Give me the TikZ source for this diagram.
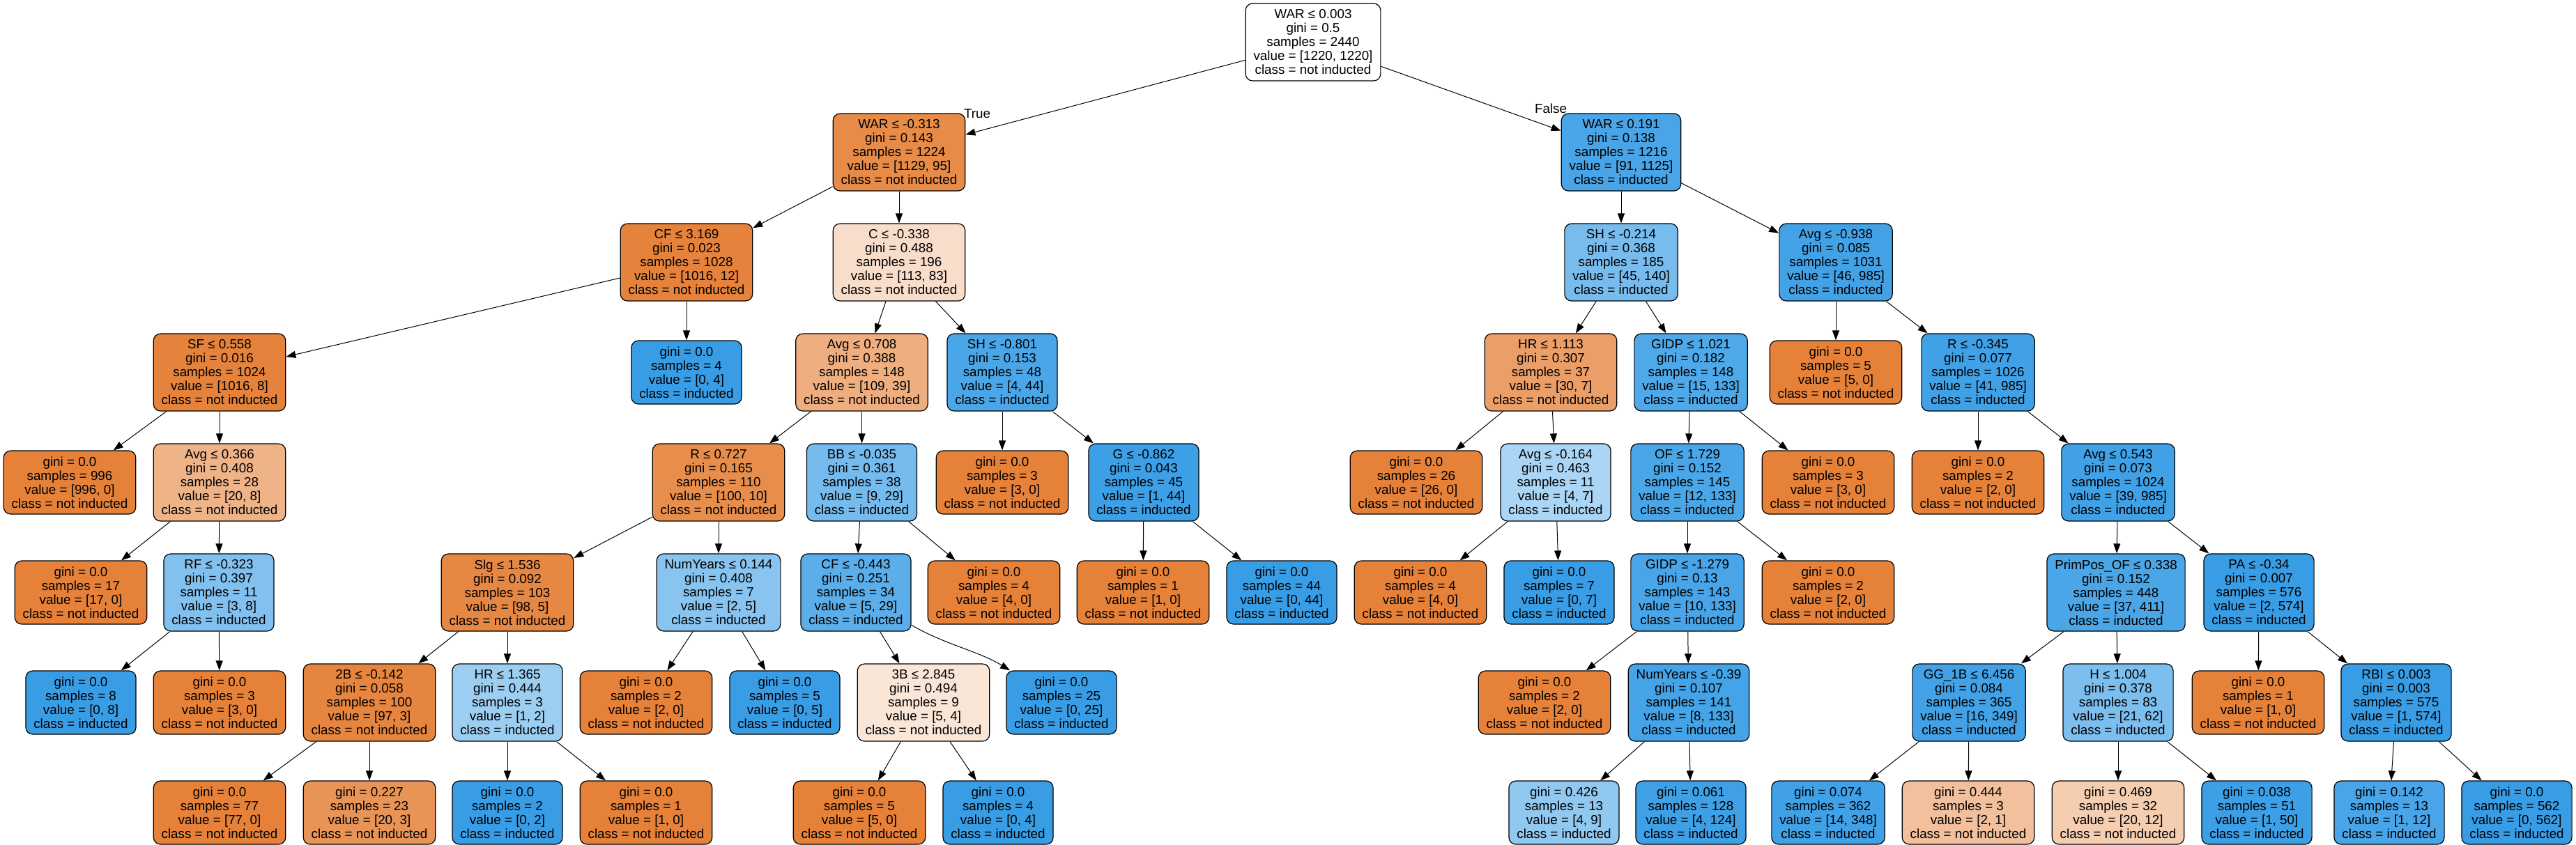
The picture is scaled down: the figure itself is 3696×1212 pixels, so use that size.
\documentclass[tikz,border=0pt]{standalone}
\usepackage{fontspec}
\setmainfont{Liberation Sans}
\usetikzlibrary{arrows.meta}
\definecolor{notind}{RGB}{229,129,57}
\definecolor{ind}{RGB}{57,157,229}

\begin{document}
\begin{tikzpicture}[x=0.5pt, y=-0.5pt,
    font=\fontsize{9.4}{10}\selectfont,
    dnode/.style={draw, line width=0.6pt, rounded corners=5pt, align=center,
      minimum height=55.5pt, inner xsep=5.7pt, inner ysep=0pt},
    lnode/.style={dnode, minimum height=45.5pt},
    edge/.style={-{Triangle[length=7pt,width=5pt]}, line width=0.5pt}]

    \useasboundingbox (0,0) rectangle (3696,1212);

    % level 0
    \node[dnode, fill=white] (root) at (1884,60.5) {WAR ≤ 0.003\\gini = 0.5\\samples = 2440\\value = [1220, 1220]\\class = not inducted};

    % level 1
    \node[dnode, fill=notind!92] (l) at (1290,218.5) {WAR ≤ -0.313\\gini = 0.143\\samples = 1224\\value = [1129, 95]\\class = not inducted};
    \node[dnode, fill=ind!92] (r) at (2326,218.5) {WAR ≤ 0.191\\gini = 0.138\\samples = 1216\\value = [91, 1125]\\class = inducted};
    \node (true) at (1402,163) {True};
    \node (false) at (2225,156) {False};

    % level 2
    \node[dnode, fill=notind!99] (ll) at (985,376.5) {CF ≤ 3.169\\gini = 0.023\\samples = 1028\\value = [1016, 12]\\class = not inducted};
    \node[dnode, fill=notind!27] (lr) at (1290,376.5) {C ≤ -0.338\\gini = 0.488\\samples = 196\\value = [113, 83]\\class = not inducted};
    \node[dnode, fill=ind!68] (rl) at (2326,376.5) {SH ≤ -0.214\\gini = 0.368\\samples = 185\\value = [45, 140]\\class = inducted};
    \node[dnode, fill=ind!95] (rr) at (2634,376.5) {Avg ≤ -0.938\\gini = 0.085\\samples = 1031\\value = [46, 985]\\class = inducted};

    % level 3
    \node[dnode, fill=notind!99] (lll) at (315,534.5) {SF ≤ 0.558\\gini = 0.016\\samples = 1024\\value = [1016, 8]\\class = not inducted};
    \node[lnode, fill=ind] (llr) at (985,534.5) {gini = 0.0\\samples = 4\\value = [0, 4]\\class = inducted};
    \node[dnode, fill=notind!64] (lrl) at (1236.5,534.5) {Avg ≤ 0.708\\gini = 0.388\\samples = 148\\value = [109, 39]\\class = not inducted};
    \node[dnode, fill=ind!91] (lrr) at (1438,534.5) {SH ≤ -0.801\\gini = 0.153\\samples = 48\\value = [4, 44]\\class = inducted};
    \node[dnode, fill=notind!77] (rll) at (2225,534.5) {HR ≤ 1.113\\gini = 0.307\\samples = 37\\value = [30, 7]\\class = not inducted};
    \node[dnode, fill=ind!89] (rlr) at (2426,534.5) {GIDP ≤ 1.021\\gini = 0.182\\samples = 148\\value = [15, 133]\\class = inducted};
    \node[lnode, fill=notind] (rrl) at (2634,534.5) {gini = 0.0\\samples = 5\\value = [5, 0]\\class = not inducted};
    \node[dnode, fill=ind!96] (rrr) at (2838,534.5) {R ≤ -0.345\\gini = 0.077\\samples = 1026\\value = [41, 985]\\class = inducted};

    % level 4
    \node[lnode, fill=notind] (llll) at (100,692.5) {gini = 0.0\\samples = 996\\value = [996, 0]\\class = not inducted};
    \node[dnode, fill=notind!60] (lllr) at (315,692.5) {Avg ≤ 0.366\\gini = 0.408\\samples = 28\\value = [20, 8]\\class = not inducted};
    \node[dnode, fill=notind!90] (lrll) at (1031,692.5) {R ≤ 0.727\\gini = 0.165\\samples = 110\\value = [100, 10]\\class = not inducted};
    \node[dnode, fill=ind!69] (lrlr) at (1236.5,692.5) {BB ≤ -0.035\\gini = 0.361\\samples = 38\\value = [9, 29]\\class = inducted};
    \node[lnode, fill=notind] (lrrl) at (1438,692.5) {gini = 0.0\\samples = 3\\value = [3, 0]\\class = not inducted};
    \node[dnode, fill=ind!98] (lrrr) at (1641,692.5) {G ≤ -0.862\\gini = 0.043\\samples = 45\\value = [1, 44]\\class = inducted};
    \node[lnode, fill=notind] (rlll) at (2032,692.5) {gini = 0.0\\samples = 26\\value = [26, 0]\\class = not inducted};
    \node[dnode, fill=ind!43] (rllr) at (2232,692.5) {Avg ≤ -0.164\\gini = 0.463\\samples = 11\\value = [4, 7]\\class = inducted};
    \node[dnode, fill=ind!91] (rlrl) at (2421,692.5) {OF ≤ 1.729\\gini = 0.152\\samples = 145\\value = [12, 133]\\class = inducted};
    \node[lnode, fill=notind] (rlrr) at (2623,692.5) {gini = 0.0\\samples = 3\\value = [3, 0]\\class = not inducted};
    \node[lnode, fill=notind] (rrrl) at (2838,692.5) {gini = 0.0\\samples = 2\\value = [2, 0]\\class = not inducted};
    \node[dnode, fill=ind!96] (rrrr) at (3039,692.5) {Avg ≤ 0.543\\gini = 0.073\\samples = 1024\\value = [39, 985]\\class = inducted};

    % level 5
    \node[lnode, fill=notind] (lllrl) at (116,850.5) {gini = 0.0\\samples = 17\\value = [17, 0]\\class = not inducted};
    \node[dnode, fill=ind!63] (lllrr) at (314,850.5) {RF ≤ -0.323\\gini = 0.397\\samples = 11\\value = [3, 8]\\class = inducted};
    \node[dnode, fill=notind!95] (lrlll) at (728,850.5) {Slg ≤ 1.536\\gini = 0.092\\samples = 103\\value = [98, 5]\\class = not inducted};
    \node[dnode, fill=ind!60] (lrllr) at (1031,850.5) {NumYears ≤ 0.144\\gini = 0.408\\samples = 7\\value = [2, 5]\\class = inducted};
    \node[dnode, fill=ind!83] (lrlrl) at (1228,850.5) {CF ≤ -0.443\\gini = 0.251\\samples = 34\\value = [5, 29]\\class = inducted};
    \node[lnode, fill=notind] (lrlrr) at (1426,850.5) {gini = 0.0\\samples = 4\\value = [4, 0]\\class = not inducted};
    \node[lnode, fill=notind] (lrrrl) at (1640,850.5) {gini = 0.0\\samples = 1\\value = [1, 0]\\class = not inducted};
    \node[lnode, fill=ind] (lrrrr) at (1839,850.5) {gini = 0.0\\samples = 44\\value = [0, 44]\\class = inducted};
    \node[lnode, fill=notind] (rllrl) at (2038,850.5) {gini = 0.0\\samples = 4\\value = [4, 0]\\class = not inducted};
    \node[lnode, fill=ind] (rllrr) at (2237,850.5) {gini = 0.0\\samples = 7\\value = [0, 7]\\class = inducted};
    \node[dnode, fill=ind!92] (rlrll) at (2421,850.5) {GIDP ≤ -1.279\\gini = 0.13\\samples = 143\\value = [10, 133]\\class = inducted};
    \node[lnode, fill=notind] (rlrlr) at (2623,850.5) {gini = 0.0\\samples = 2\\value = [2, 0]\\class = not inducted};
    \node[dnode, fill=ind!91] (rrrrl) at (3036,850.5) {PrimPos\_OF ≤ 0.338\\gini = 0.152\\samples = 448\\value = [37, 411]\\class = inducted};
    \node[dnode, fill=ind!100] (rrrrr) at (3241,850.5) {PA ≤ -0.34\\gini = 0.007\\samples = 576\\value = [2, 574]\\class = inducted};

    % level 6
    \node[lnode, fill=ind] (lllrrl) at (116,1008.5) {gini = 0.0\\samples = 8\\value = [0, 8]\\class = inducted};
    \node[lnode, fill=notind] (lllrrr) at (315,1008.5) {gini = 0.0\\samples = 3\\value = [3, 0]\\class = not inducted};
    \node[dnode, fill=notind!97] (lrllll) at (530,1008.5) {2B ≤ -0.142\\gini = 0.058\\samples = 100\\value = [97, 3]\\class = not inducted};
    \node[dnode, fill=ind!50] (lrlllr) at (728,1008.5) {HR ≤ 1.365\\gini = 0.444\\samples = 3\\value = [1, 2]\\class = inducted};
    \node[lnode, fill=notind] (lrllrl) at (927,1008.5) {gini = 0.0\\samples = 2\\value = [2, 0]\\class = not inducted};
    \node[lnode, fill=ind] (lrllrr) at (1126,1008.5) {gini = 0.0\\samples = 5\\value = [0, 5]\\class = inducted};
    \node[dnode, fill=notind!20] (lrlrll) at (1325,1008.5) {3B ≤ 2.845\\gini = 0.494\\samples = 9\\value = [5, 4]\\class = not inducted};
    \node[lnode, fill=ind] (lrlrlr) at (1523,1008.5) {gini = 0.0\\samples = 25\\value = [0, 25]\\class = inducted};
    \node[lnode, fill=notind] (rlrlll) at (2216,1008.5) {gini = 0.0\\samples = 2\\value = [2, 0]\\class = not inducted};
    \node[dnode, fill=ind!94] (rlrllr) at (2423,1008.5) {NumYears ≤ -0.39\\gini = 0.107\\samples = 141\\value = [8, 133]\\class = inducted};
    \node[dnode, fill=ind!95] (rrrrll) at (2825,1008.5) {GG\_1B ≤ 6.456\\gini = 0.084\\samples = 365\\value = [16, 349]\\class = inducted};
    \node[dnode, fill=ind!66] (rrrrlr) at (3039,1008.5) {H ≤ 1.004\\gini = 0.378\\samples = 83\\value = [21, 62]\\class = inducted};
    \node[lnode, fill=notind] (rrrrrl) at (3240,1008.5) {gini = 0.0\\samples = 1\\value = [1, 0]\\class = not inducted};
    \node[dnode, fill=ind!100] (rrrrrr) at (3438,1008.5) {RBI ≤ 0.003\\gini = 0.003\\samples = 575\\value = [1, 574]\\class = inducted};

    % level 7
    \node[lnode, fill=notind] (lrlllll) at (315,1166.5) {gini = 0.0\\samples = 77\\value = [77, 0]\\class = not inducted};
    \node[lnode, fill=notind!85] (lrllllr) at (530,1166.5) {gini = 0.227\\samples = 23\\value = [20, 3]\\class = not inducted};
    \node[lnode, fill=ind] (lrlllrl) at (728,1166.5) {gini = 0.0\\samples = 2\\value = [0, 2]\\class = inducted};
    \node[lnode, fill=notind] (lrlllrr) at (927,1166.5) {gini = 0.0\\samples = 1\\value = [1, 0]\\class = not inducted};
    \node[lnode, fill=notind] (lrlrlll) at (1233,1166.5) {gini = 0.0\\samples = 5\\value = [5, 0]\\class = not inducted};
    \node[lnode, fill=ind] (lrlrllr) at (1432,1166.5) {gini = 0.0\\samples = 4\\value = [0, 4]\\class = inducted};
    \node[lnode, fill=ind!56] (rlrllrl) at (2244,1166.5) {gini = 0.426\\samples = 13\\value = [4, 9]\\class = inducted};
    \node[lnode, fill=ind!97] (rlrllrr) at (2426,1166.5) {gini = 0.061\\samples = 128\\value = [4, 124]\\class = inducted};
    \node[lnode, fill=ind!96] (rrrrlll) at (2623,1166.5) {gini = 0.074\\samples = 362\\value = [14, 348]\\class = inducted};
    \node[lnode, fill=notind!50] (rrrrllr) at (2824,1166.5) {gini = 0.444\\samples = 3\\value = [2, 1]\\class = not inducted};
    \node[lnode, fill=notind!40] (rrrrlrl) at (3039,1166.5) {gini = 0.469\\samples = 32\\value = [20, 12]\\class = not inducted};
    \node[lnode, fill=ind!98] (rrrrlrr) at (3238,1166.5) {gini = 0.038\\samples = 51\\value = [1, 50]\\class = inducted};
    \node[lnode, fill=ind!92] (rrrrrrl) at (3428,1166.5) {gini = 0.142\\samples = 13\\value = [1, 12]\\class = inducted};
    \node[lnode, fill=ind] (rrrrrrr) at (3611,1166.5) {gini = 0.0\\samples = 562\\value = [0, 562]\\class = inducted};

    % edges
    \draw[edge] (root) -- (l);
    \draw[edge] (root) -- (r);
    \draw[edge] (l) -- (ll);
    \draw[edge] (l) -- (lr);
    \draw[edge] (r) -- (rl);
    \draw[edge] (r) -- (rr);
    \draw[edge] (ll) -- (lll);
    \draw[edge] (ll) -- (llr);
    \draw[edge] (lr) -- (lrl);
    \draw[edge] (lr) -- (lrr);
    \draw[edge] (rl) -- (rll);
    \draw[edge] (rl) -- (rlr);
    \draw[edge] (rr) -- (rrl);
    \draw[edge] (rr) -- (rrr);
    \draw[edge] (lll) -- (llll);
    \draw[edge] (lll) -- (lllr);
    \draw[edge] (lrl) -- (lrll);
    \draw[edge] (lrl) -- (lrlr);
    \draw[edge] (lrr) -- (lrrl);
    \draw[edge] (lrr) -- (lrrr);
    \draw[edge] (rll) -- (rlll);
    \draw[edge] (rll) -- (rllr);
    \draw[edge] (rlr) -- (rlrl);
    \draw[edge] (rlr) -- (rlrr);
    \draw[edge] (rrr) -- (rrrl);
    \draw[edge] (rrr) -- (rrrr);
    \draw[edge] (lllr) -- (lllrl);
    \draw[edge] (lllr) -- (lllrr);
    \draw[edge] (lrll) -- (lrlll);
    \draw[edge] (lrll) -- (lrllr);
    \draw[edge] (lrlr) -- (lrlrl);
    \draw[edge] (lrlr) -- (lrlrr);
    \draw[edge] (lrrr) -- (lrrrl);
    \draw[edge] (lrrr) -- (lrrrr);
    \draw[edge] (rllr) -- (rllrl);
    \draw[edge] (rllr) -- (rllrr);
    \draw[edge] (rlrl) -- (rlrll);
    \draw[edge] (rlrl) -- (rlrlr);
    \draw[edge] (rrrr) -- (rrrrl);
    \draw[edge] (rrrr) -- (rrrrr);
    \draw[edge] (lllrr) -- (lllrrl);
    \draw[edge] (lllrr) -- (lllrrr);
    \draw[edge] (lrlll) -- (lrllll);
    \draw[edge] (lrlll) -- (lrlllr);
    \draw[edge] (lrllr) -- (lrllrl);
    \draw[edge] (lrllr) -- (lrllrr);
    \draw[edge] (lrlrl) -- (lrlrll);
    \draw[edge] (lrlrl) .. controls (1355,925) and (1405,935) .. (lrlrlr);
    \draw[edge] (rlrll) -- (rlrlll);
    \draw[edge] (rlrll) -- (rlrllr);
    \draw[edge] (rrrrl) -- (rrrrll);
    \draw[edge] (rrrrl) -- (rrrrlr);
    \draw[edge] (rrrrr) -- (rrrrrl);
    \draw[edge] (rrrrr) -- (rrrrrr);
    \draw[edge] (lrllll) -- (lrlllll);
    \draw[edge] (lrllll) -- (lrllllr);
    \draw[edge] (lrlllr) -- (lrlllrl);
    \draw[edge] (lrlllr) -- (lrlllrr);
    \draw[edge] (lrlrll) -- (lrlrlll);
    \draw[edge] (lrlrll) -- (lrlrllr);
    \draw[edge] (rlrllr) -- (rlrllrl);
    \draw[edge] (rlrllr) -- (rlrllrr);
    \draw[edge] (rrrrll) -- (rrrrlll);
    \draw[edge] (rrrrll) -- (rrrrllr);
    \draw[edge] (rrrrlr) -- (rrrrlrl);
    \draw[edge] (rrrrlr) -- (rrrrlrr);
    \draw[edge] (rrrrrr) -- (rrrrrrl);
    \draw[edge] (rrrrrr) -- (rrrrrrr);
\end{tikzpicture}
\end{document}
